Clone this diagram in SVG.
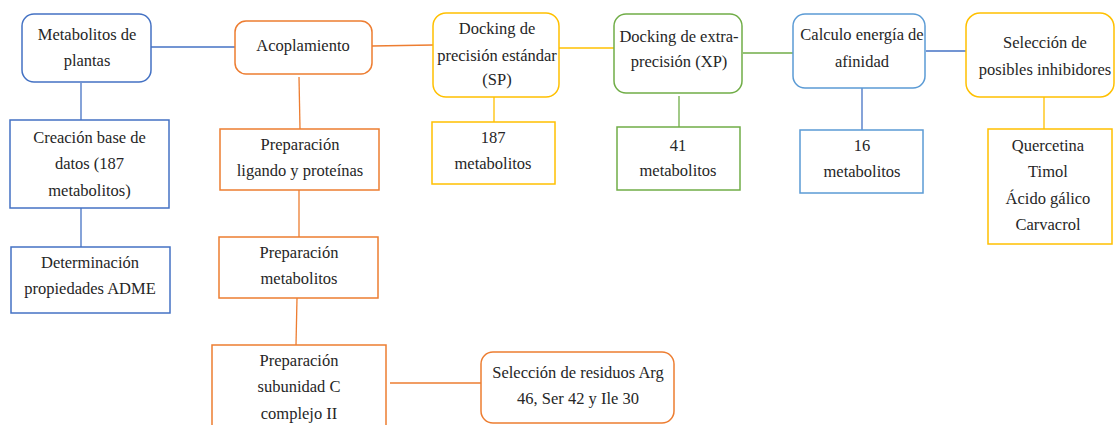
<svg xmlns="http://www.w3.org/2000/svg" width="1116" height="425" viewBox="0 0 1116 425">
<style>
text{font-family:"Liberation Serif","Times New Roman",serif;font-size:16.5px;fill:#262626;text-anchor:middle}
.n{fill:#fff;stroke-width:1.5}
.bl{stroke:#4472C4}
.lb{stroke:#5B9BD5}
.or{stroke:#ED7D31}
.ye{stroke:#FFC000}
.gr{stroke:#70AD47}
.c{fill:none;stroke-width:1.3}
</style>
<rect width="1116" height="425" fill="#fff"/>
<g id="connectors">
<line class="c bl" x1="151" y1="47" x2="235" y2="47"/>
<line class="c bl" x1="81" y1="83" x2="81" y2="120"/>
<line class="c bl" x1="81" y1="208" x2="81" y2="247"/>
<line class="c or" x1="372" y1="46" x2="433" y2="45"/>
<line class="c or" x1="299" y1="77" x2="300" y2="129"/>
<line class="c or" x1="299" y1="190" x2="299" y2="237"/>
<line class="c or" x1="297" y1="298" x2="296" y2="345"/>
<line class="c or" x1="390" y1="383" x2="481" y2="383"/>
<line class="c ye" x1="559" y1="48" x2="617" y2="48"/>
<line class="c ye" x1="494" y1="97" x2="494" y2="122"/>
<line class="c gr" x1="743" y1="53" x2="793" y2="53"/>
<line class="c gr" x1="679" y1="96" x2="679" y2="127"/>
<line class="c bl" x1="926" y1="51" x2="967" y2="51"/>
<line class="c bl" x1="862" y1="88" x2="862" y2="130"/>
<line class="c ye" x1="1044" y1="97" x2="1044" y2="129"/>
</g>
<g id="n-metabolitos">
<rect class="n bl" x="22" y="14" width="129" height="68" rx="12"/>
<text x="87" y="40">Metabolitos de</text>
<text x="87" y="66">plantas</text>
</g>
<g id="n-creacion">
<rect class="n bl" x="10" y="120" width="159" height="88"/>
<text x="89.5" y="143">Creación base de</text>
<text x="89.5" y="169">datos (187</text>
<text x="89.5" y="196">metabolitos)</text>
</g>
<g id="n-adme">
<rect class="n bl" x="11" y="247" width="159" height="66"/>
<text x="90" y="268">Determinación</text>
<text x="90" y="294">propiedades ADME</text>
</g>
<g id="n-acoplamiento">
<rect class="n or" x="235" y="21" width="137" height="53" rx="11"/>
<text x="303" y="51">Acoplamiento</text>
</g>
<g id="n-ligando">
<rect class="n or" x="220" y="129" width="159" height="61"/>
<text x="300" y="150">Preparación</text>
<text x="300" y="176">ligando y proteínas</text>
</g>
<g id="n-prepmet">
<rect class="n or" x="219" y="237" width="159" height="61"/>
<text x="299" y="258">Preparación</text>
<text x="299" y="284">metabolitos</text>
</g>
<g id="n-subunidad">
<rect class="n or" x="212" y="345" width="174" height="90"/>
<text x="299" y="366">Preparación</text>
<text x="299" y="392">subunidad C</text>
<text x="299" y="419">complejo II</text>
</g>
<g id="n-residuos">
<rect class="n or" x="481" y="352" width="193" height="71" rx="12"/>
<text x="578" y="378">Selección de residuos Arg</text>
<text x="578" y="404">46, Ser 42 y Ile 30</text>
</g>
<g id="n-sp">
<rect class="n ye" x="433" y="13" width="126" height="84" rx="13"/>
<text x="497" y="34">Docking de</text>
<text x="497" y="61">precisión estándar</text>
<text x="497" y="85">(SP)</text>
</g>
<g id="n-187">
<rect class="n ye" x="432" y="122" width="123" height="62"/>
<text x="493" y="143">187</text>
<text x="493" y="169">metabolitos</text>
</g>
<g id="n-xp">
<rect class="n gr" x="614" y="14" width="128" height="79" rx="12"/>
<text x="679" y="42">Docking de extra-</text>
<text x="679" y="67">precisión (XP)</text>
</g>
<g id="n-41">
<rect class="n gr" x="617" y="127" width="123" height="63"/>
<text x="678" y="151">41</text>
<text x="678" y="176">metabolitos</text>
</g>
<g id="n-calculo">
<rect class="n lb" x="793" y="14" width="132" height="74" rx="12"/>
<text x="862" y="40">Calculo energía de</text>
<text x="862" y="67">afinidad</text>
</g>
<g id="n-16">
<rect class="n lb" x="800" y="130" width="123" height="63"/>
<text x="862" y="151">16</text>
<text x="862" y="177">metabolitos</text>
</g>
<g id="n-seleccion">
<rect class="n ye" x="966" y="13" width="148" height="84" rx="14"/>
<text x="1045" y="48">Selección de</text>
<text x="1045" y="75">posibles inhibidores</text>
</g>
<g id="n-inhibidores">
<rect class="n ye" x="988" y="129" width="124" height="115"/>
<text x="1048" y="151">Quercetina</text>
<text x="1048" y="177">Timol</text>
<text x="1048" y="204">Ácido gálico</text>
<text x="1048" y="230">Carvacrol</text>
</g>
</svg>
